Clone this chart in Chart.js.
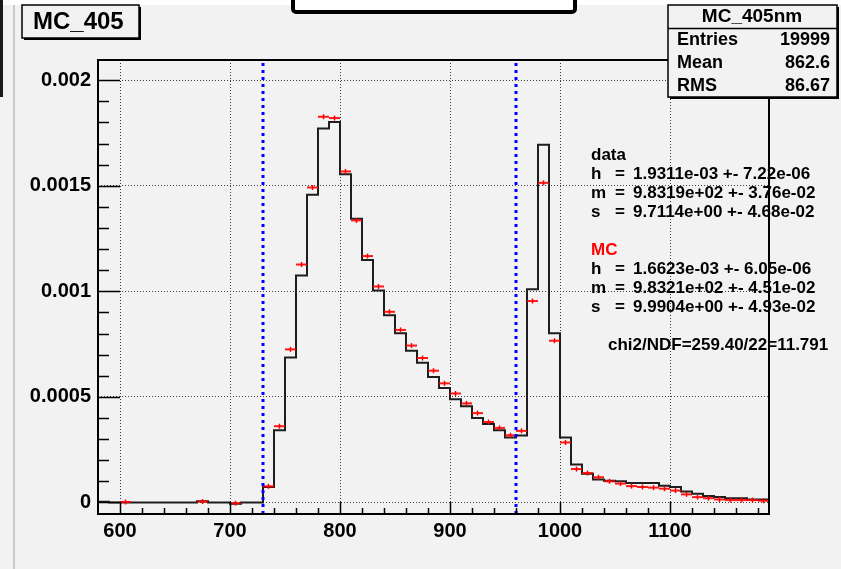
<!DOCTYPE html>
<html>
<head>
<meta charset="utf-8">
<title>MC_405</title>
<script src="https://cdn.jsdelivr.net/npm/chart.js@4.4.1/dist/chart.umd.min.js"></script>
<style>
  html, body { margin: 0; padding: 0; background: #f2f2f2; }
  canvas { display: block; }
</style>
</head>
<body>
<canvas id="mc405" width="841" height="569"></canvas>
<script>
// binning of the histogram (nm)
const binLow = 580;
const binWidth = 10;

// black histogram ("data"), one value per bin from 580 to 1190, read in units of 1e-3
const dataValues = [
  0.003, 0, 0, 0, 0, 0, 0, 0, 0, 0.005, 0, 0, -0.006, 0, 0,
  0.073, 0.342, 0.686, 1.075, 1.458, 1.772, 1.802, 1.555, 1.344, 1.148,
  1.004, 0.887, 0.801, 0.719, 0.662, 0.594, 0.542, 0.489, 0.456, 0.400,
  0.371, 0.342, 0.307, 0.317, 1.010, 1.694, 0.801, 0.307, 0.179, 0.136,
  0.109, 0.103, 0.100, 0.092, 0.092, 0.092, 0.079, 0.073, 0.052, 0.041,
  0.030, 0.025, 0.020, 0.020, 0.014, 0.014
];

// red markers ("MC"), same bins, units of 1e-3 (null = empty bin)
const mcValues = [
  null, null, 0.002, null, null, null, null, null, null, 0.004, null, null, -0.004, null, null,
  0.076, 0.361, 0.725, 1.127, 1.492, 1.827, 1.821, 1.568, 1.336, 1.167,
  1.023, 0.903, 0.817, 0.743, 0.684, 0.624, 0.564, 0.516, 0.469, 0.423,
  0.381, 0.353, 0.318, 0.339, 0.954, 1.514, 0.766, 0.284, 0.158, 0.139,
  0.119, 0.100, 0.089, 0.077, 0.073, 0.070, 0.065, 0.056, 0.038, 0.025,
  0.020, 0.014, 0.011, 0.011, 0.011, 0.008
];

// fit window (blue dotted lines)
const cutLines = [730, 960];

const xTickValues = [600, 700, 800, 900, 1000, 1100];
const yTickValues = [0, 0.0005, 0.001, 0.0015, 0.002];
const yTickLabels = ["0", "0.0005", "0.001", "0.0015", "0.002"];

const xMin = 580, xMax = 1190;
const yMin = -0.000055, yMax = 0.002096;

const histTitle = "MC_405";
const statsTitle = "MC_405nm";
const statsRows = [["Entries", "19999"], ["Mean", "862.6"], ["RMS", "86.67"]];

const fitData = [["h", "1.9311e-03 +- 7.22e-06"], ["m", "9.8319e+02 +- 3.76e-02"], ["s", "9.7114e+00 +- 4.68e-02"]];
const fitMC = [["h", "1.6623e-03 +- 6.05e-06"], ["m", "9.8321e+02 +- 4.51e-02"], ["s", "9.9904e+00 +- 4.93e-02"]];
const chi2Text = "chi2/NDF=259.40/22=11.791";

const FONT = '"Liberation Sans", Arial, Helvetica, sans-serif';

// stepped outline: one point on each left bin edge + closing point at the last edge
const histPoints = dataValues.map((v, i) => ({ x: binLow + i * binWidth, y: v / 1000 }));
histPoints.push({ x: binLow + dataValues.length * binWidth, y: dataValues[dataValues.length - 1] / 1000 });

const mcPoints = [];
mcValues.forEach((v, i) => {
  if (v !== null) mcPoints.push({ x: binLow + (i + 0.5) * binWidth, y: v / 1000 });
});

const cutDatasets = cutLines.map((c) => ({
  data: [{ x: c, y: yMin }, { x: c, y: yMax }],
  borderColor: "#0000ff",
  borderWidth: 3,
  borderDash: [3, 4],
  pointRadius: 0,
  order: 0,
}));

// ROOT-like pad decoration: frame, inside ticks, boxes and fit text
const rootPad = {
  id: "rootPad",
  beforeDraw(chart) {
    const ctx = chart.ctx;
    ctx.save();
    ctx.fillStyle = "#f2f2f2";
    ctx.fillRect(0, 0, chart.width, chart.height);
    ctx.fillStyle = "#ffffff";
    ctx.fillRect(0, 0, chart.width, 5);
    ctx.fillStyle = "#1a1a1a";
    ctx.fillRect(0, 0, 3, 97);
    ctx.fillStyle = "#c8c8c8";
    ctx.fillRect(13, 5, 2, chart.height);
    // the cut-off box at the top
    ctx.fillStyle = "#ffffff";
    ctx.strokeStyle = "#000";
    ctx.lineWidth = 4;
    ctx.beginPath();
    ctx.roundRect(293, -6, 282, 18, 3);
    ctx.fill();
    ctx.stroke();
    ctx.restore();
  },
  afterDraw(chart) {
    const ctx = chart.ctx;
    const a = chart.chartArea;
    const xs = chart.scales.x, ys = chart.scales.y;
    ctx.save();

    // frame
    ctx.strokeStyle = "#000";
    ctx.lineWidth = 2;
    ctx.strokeRect(a.left, a.top, a.right - a.left, a.bottom - a.top);

    // ticks inside the frame
    ctx.lineWidth = 1.5;
    ctx.beginPath();
    for (let v = 600; v < xMax; v += 20) {
      const px = Math.round(xs.getPixelForValue(v)) + 0.5;
      const len = xTickValues.includes(v) ? 12 : 6;
      ctx.moveTo(px, a.bottom);
      ctx.lineTo(px, a.bottom - len);
    }
    for (let k = 0; k <= 20; k++) {
      const py = Math.round(ys.getPixelForValue(k * 0.0001)) + 0.5;
      const len = k % 5 === 0 ? 22 : 11;
      ctx.moveTo(a.left, py);
      ctx.lineTo(a.left + len, py);
    }
    ctx.stroke();

    // title box
    ctx.fillStyle = "#000";
    ctx.fillRect(24, 7, 117, 33);
    ctx.fillStyle = "#f2f2f2";
    ctx.fillRect(22, 5, 117, 33);
    ctx.lineWidth = 1.5;
    ctx.strokeRect(22, 5, 117, 33);
    ctx.fillStyle = "#000";
    ctx.font = "bold 24px " + FONT;
    ctx.textBaseline = "middle";
    ctx.textAlign = "left";
    ctx.fillText(histTitle, 33, 22);

    // stats box
    ctx.fillStyle = "#000";
    ctx.fillRect(670, 7, 169, 92);
    ctx.fillStyle = "#f2f2f2";
    ctx.fillRect(668, 5, 169, 92);
    ctx.strokeStyle = "#000";
    ctx.lineWidth = 1.5;
    ctx.strokeRect(668, 5, 169, 92);
    ctx.beginPath();
    ctx.moveTo(668, 28.5);
    ctx.lineTo(837, 28.5);
    ctx.stroke();
    ctx.fillStyle = "#000";
    ctx.font = "bold 19px " + FONT;
    ctx.textAlign = "center";
    ctx.fillText(statsTitle, 752, 17);
    ctx.font = "bold 18px " + FONT;
    statsRows.forEach((r, i) => {
      const y = 40 + i * 23;
      ctx.textAlign = "left";
      ctx.fillText(r[0], 677, y);
      ctx.textAlign = "right";
      ctx.fillText(r[1], 830, y);
    });

    // fit results
    ctx.font = "bold 17px " + FONT;
    ctx.textAlign = "left";
    const step = 19;
    const drawBlock = (label, color, rows, y0) => {
      ctx.fillStyle = color;
      ctx.fillText(label, 591, y0);
      ctx.fillStyle = "#000";
      rows.forEach((r, i) => {
        const y = y0 + (i + 1) * step;
        ctx.fillText(r[0], 591, y);
        ctx.fillText("=", 615, y);
        ctx.fillText(r[1], 633, y);
      });
    };
    drawBlock("data", "#000", fitData, 155);
    drawBlock("MC", "#ff0000", fitMC, 155 + 5 * step);
    ctx.fillStyle = "#000";
    ctx.fillText(chi2Text, 608, 155 + 10 * step);

    ctx.restore();
  },
};

const tickFont = { family: FONT, size: 20, weight: "bold" };

const config = {
  type: "line",
  data: {
    datasets: [
      ...cutDatasets,
      {
        label: "MC",
        data: mcPoints,
        showLine: false,
        pointStyle: "line",
        pointRadius: 5.5,
        pointBorderWidth: 2,
        pointBorderColor: "rgba(255,0,0,0.9)",
        pointBackgroundColor: "rgba(255,0,0,0.9)",
        order: 1,
      },
      {
        label: "MC err",
        data: mcPoints,
        showLine: false,
        pointStyle: "line",
        pointRotation: 90,
        pointRadius: 2.5,
        pointBorderWidth: 1.5,
        pointBorderColor: "#ff0000",
        order: 1,
      },
      {
        label: "data",
        data: histPoints,
        stepped: "before",
        borderColor: "#1e1e1e",
        borderWidth: 2,
        pointRadius: 0,
        fill: false,
        order: 2,
      },
    ],
  },
  options: {
    responsive: false,
    animation: false,
    events: [],
    layout: { padding: { top: 60, right: 72, left: 0, bottom: 0 }, autoPadding: false },
    plugins: {
      legend: { display: false },
      tooltip: { enabled: false },
    },
    scales: {
      x: {
        type: "linear",
        min: xMin,
        max: xMax,
        afterBuildTicks: (scale) => { scale.ticks = xTickValues.map((v) => ({ value: v })); },
        afterFit: (scale) => { scale.height = 55; },
        grid: { color: "#3a3a3a", lineWidth: 1, drawTicks: false },
        border: { display: false, dash: [1, 2] },
        ticks: {
          color: "#000",
          font: tickFont,
          padding: 5,
          maxRotation: 0,
          autoSkip: false,
          callback: (v) => String(v),
        },
      },
      y: {
        type: "linear",
        min: yMin,
        max: yMax,
        afterBuildTicks: (scale) => { scale.ticks = yTickValues.map((v) => ({ value: v })); },
        afterFit: (scale) => { scale.width = 98; },
        grid: { color: "#3a3a3a", lineWidth: 1, drawTicks: false },
        border: { display: false, dash: [1, 2] },
        ticks: {
          color: "#000",
          font: tickFont,
          padding: 7,
          autoSkip: false,
          callback: (v) => yTickLabels[yTickValues.indexOf(v)],
        },
      },
    },
  },
  plugins: [rootPad],
};

const ctx = document.getElementById("mc405").getContext("2d");
const mcChart = new Chart(ctx, config);
</script>
</body>
</html>
